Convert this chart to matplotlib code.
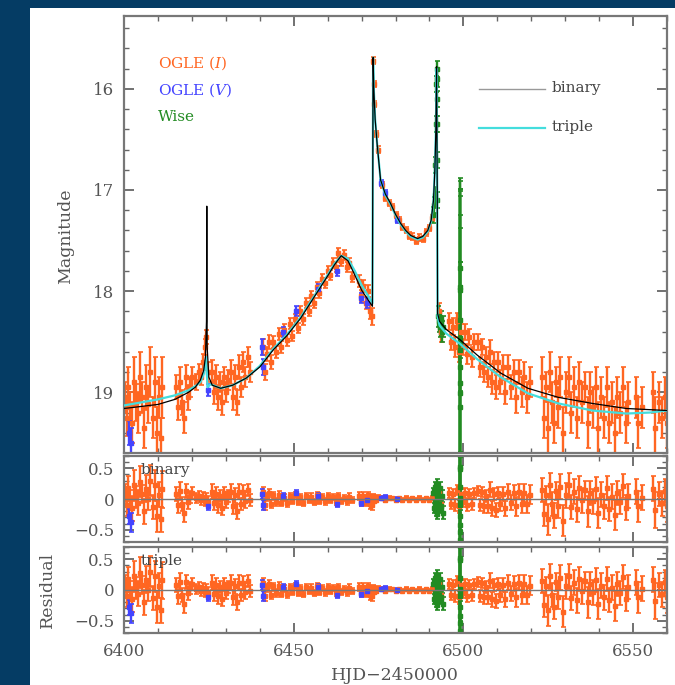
import numpy as np
import matplotlib.pyplot as plt
from matplotlib.ticker import MultipleLocator

plt.rcParams['font.family'] = ['DejaVu Serif']
plt.rcParams['mathtext.fontset'] = 'dejavuserif'

# MODEL CURVES
t_bin = [6400, 6405, 6410, 6415, 6419, 6421, 6422.5, 6423.5, 6424.0, 6424.3, 6424.4, 6424.5,
         6425, 6426, 6428.5, 6432, 6436, 6440, 6444, 6448, 6452, 6456, 6460, 6462, 6464,
         6466, 6468, 6470, 6472, 6473.2, 6473.4, 6473.6, 6474, 6474.6, 6475.6, 6477, 6478.5,
         6480, 6481.5, 6483, 6484.5, 6486.5, 6488, 6489.5, 6490.5, 6491.2, 6491.6, 6491.9,
         6492.1, 6492.3, 6492.4, 6493, 6495, 6499, 6504, 6511, 6519, 6528, 6538, 6548, 6560]
mag_bin = [19.16, 19.14, 19.12, 19.07, 19.00, 18.95, 18.88, 18.78, 18.65, 18.30, 17.16, 18.55,
           18.85, 18.93, 18.96, 18.93, 18.86, 18.75, 18.58, 18.44, 18.27, 18.06, 17.85, 17.74, 17.65,
           17.70, 17.84, 17.99, 18.09, 18.15, 15.69, 16.00, 16.30, 16.55, 16.90, 17.04, 17.13,
           17.24, 17.33, 17.40, 17.45, 17.48, 17.46, 17.40, 17.30, 17.10, 16.80, 16.40,
           15.78, 17.00, 18.22, 18.30, 18.38, 18.48, 18.63, 18.81, 18.96, 19.05, 19.11, 19.16, 19.18]

t_tri = [6400, 6405, 6410, 6415, 6419, 6421, 6422.5, 6423.5, 6424.2, 6424.6, 6425.5,
         6428.5, 6432, 6436, 6440, 6444, 6448, 6452, 6456, 6460, 6462, 6464, 6466, 6468,
         6470, 6472, 6473.2, 6473.4, 6473.6, 6474, 6474.6, 6475.6, 6477, 6478.5, 6480,
         6481.5, 6483, 6484.5, 6486.5, 6488, 6489.5, 6490.5, 6491.2, 6491.6, 6491.9, 6492.1,
         6492.3, 6492.4, 6493, 6495, 6499, 6504, 6511, 6519, 6528, 6538, 6548, 6555, 6560]
mag_tri = [19.13, 19.10, 19.07, 19.03, 18.98, 18.94, 18.90, 18.82, 18.65, 18.95, 18.92,
           18.96, 18.93, 18.86, 18.74, 18.57, 18.43, 18.26, 18.05, 17.84, 17.73, 17.65, 17.68, 17.80,
           17.94, 18.05, 18.12, 15.69, 16.00, 16.30, 16.55, 16.90, 17.05, 17.14, 17.25,
           17.34, 17.41, 17.46, 17.49, 17.47, 17.41, 17.31, 17.10, 16.80, 16.40, 15.80,
           17.00, 18.25, 18.34, 18.42, 18.52, 18.67, 18.85, 19.01, 19.11, 19.18, 19.21, 19.20, 19.18]

# OGLE I DATA
ogle_i_t = [6400.3, 6400.8, 6401.3, 6401.8, 6402.4, 6403.0, 6403.6, 6404.2, 6404.8, 6405.4,
            6406.0, 6406.6, 6407.2, 6407.8, 6408.4, 6409.0, 6409.6, 6410.2, 6410.8, 6411.3,
            6415.2, 6415.8, 6416.4, 6417.0, 6417.6, 6418.2, 6418.8, 6419.4, 6420.0, 6421.2,
            6422.0, 6422.8, 6423.4, 6423.8, 6424.1, 6424.7,
            6425.8, 6426.4, 6427.0, 6427.6, 6428.2, 6428.8, 6429.4, 6430.0, 6430.5,
            6431.6, 6432.2, 6432.8, 6433.4, 6434.0, 6434.6, 6435.2, 6435.8, 6436.4, 6437.0,
            6441.0, 6441.5, 6442.0, 6442.6, 6443.2, 6444.0, 6444.8, 6445.6, 6446.4, 6447.2,
            6448.0, 6448.8, 6449.6, 6450.4, 6451.2, 6452.0, 6452.8, 6453.6, 6454.4, 6455.2,
            6456.0, 6456.8, 6457.6, 6458.4, 6459.2, 6460.0, 6460.8, 6461.6, 6462.4, 6463.2,
            6464.0, 6464.8, 6465.6, 6466.4, 6467.2,
            6469.2, 6469.8, 6470.5, 6471.2, 6471.8, 6472.4, 6473.0, 6473.45, 6473.55, 6473.7,
            6474.3, 6474.7,
            6476.0, 6477.0, 6478.0, 6479.0, 6480.0, 6481.0, 6482.0, 6483.0, 6484.0, 6485.0,
            6486.0, 6487.0, 6488.0, 6489.0, 6490.0, 6490.8,
            6492.8, 6493.3, 6495.8, 6496.4, 6497.0, 6497.6, 6498.2, 6498.8, 6499.4, 6500.0,
            6500.6, 6501.2, 6501.8, 6502.4, 6503.0,
            6504.2, 6504.8, 6505.4, 6506.0, 6506.6, 6507.2, 6507.8, 6508.4, 6509.0, 6509.6,
            6510.2, 6510.8, 6511.6, 6512.4, 6513.2, 6514.0, 6514.8, 6515.6, 6516.4, 6517.2,
            6518.0, 6518.8, 6519.6,
            6523.2, 6523.8, 6524.4, 6525.0, 6525.6, 6526.2, 6526.8, 6527.4, 6528.0, 6528.6,
            6529.4, 6530.2, 6531.0, 6531.8, 6532.6, 6533.4, 6534.2, 6535.0, 6535.8, 6536.6,
            6537.4, 6538.2, 6539.0, 6539.8, 6540.6, 6541.4, 6542.2, 6543.0, 6543.8, 6544.6,
            6545.4, 6546.2, 6547.0, 6547.8, 6548.6,
            6550.8, 6551.6, 6552.6, 6555.8, 6556.6, 6557.6, 6558.6, 6559.4, 6559.9]
ogle_i_mag = [19.05, 19.25, 18.95, 19.15, 19.30, 18.90, 19.10, 19.20, 18.85, 19.05,
              19.35, 18.95, 19.12, 18.80, 19.25, 18.90, 19.40, 19.05, 19.45, 18.95,
              18.95, 19.15, 18.90, 19.10, 19.25, 18.85, 19.05, 18.95, 18.85, 18.90,
              18.80, 18.85, 18.70, 18.55, 18.45, 18.80,
              18.80, 19.00, 18.85, 19.05, 18.90, 19.10, 18.85, 19.00, 18.88,
              18.80, 19.05, 18.85, 19.10, 18.75, 18.95, 18.70, 18.85, 18.65, 18.80,
              18.55, 18.80, 18.62, 18.50, 18.70, 18.50, 18.60, 18.42, 18.55, 18.38,
              18.48, 18.32, 18.44, 18.28, 18.36, 18.20, 18.28, 18.12, 18.20, 18.05,
              18.12, 17.96, 18.02, 17.88, 17.92, 17.80, 17.84, 17.72, 17.76, 17.62,
              17.70, 17.64, 17.76, 17.72, 17.86,
              17.90, 18.05, 17.95, 18.12, 18.00, 18.20, 18.25, 15.72, 15.95, 16.15,
              16.45, 16.60,
              16.95, 17.08, 17.13, 17.17, 17.25, 17.30, 17.37, 17.40, 17.45, 17.46,
              17.50, 17.47, 17.48, 17.42, 17.38, 17.28,
              18.20, 18.40, 18.30, 18.50, 18.35, 18.55, 18.30, 18.60, 18.40, 18.55,
              18.40, 18.62, 18.45, 18.65, 18.50,
              18.50, 18.75, 18.55, 18.80, 18.65, 18.85, 18.60, 18.90, 18.70, 18.95,
              18.70, 18.90, 18.75, 19.00, 18.75, 18.95, 18.80, 19.05, 18.80, 19.00,
              18.85, 19.05, 18.90,
              18.85, 19.25, 18.95, 19.35, 18.80, 19.10, 19.30, 18.90, 19.15, 18.85,
              19.40, 19.00, 18.85, 19.20, 18.95, 19.25, 18.90, 19.10, 18.95, 19.30,
              19.00, 19.15, 18.95, 19.35, 19.05, 19.25, 18.95, 19.30, 19.10, 19.40,
              19.05, 19.20, 18.95, 19.30, 19.10,
              19.05, 19.30, 19.15, 19.00, 19.35, 19.10, 19.25, 19.05, 19.30]
ogle_i_err = [0.15, 0.18, 0.20, 0.15, 0.20, 0.25, 0.18, 0.20, 0.25, 0.15,
              0.20, 0.22, 0.18, 0.25, 0.20, 0.25, 0.25, 0.20, 0.20, 0.30,
              0.12, 0.12, 0.15, 0.12, 0.15, 0.12, 0.12, 0.10, 0.10, 0.08,
              0.08, 0.08, 0.08, 0.08, 0.07, 0.10,
              0.12, 0.12, 0.12, 0.12, 0.10, 0.12, 0.10, 0.10, 0.10,
              0.12, 0.12, 0.12, 0.12, 0.12, 0.10, 0.10, 0.10, 0.10, 0.10,
              0.08, 0.08, 0.07, 0.07, 0.07, 0.06, 0.06, 0.06, 0.06, 0.06,
              0.06, 0.05, 0.05, 0.05, 0.05, 0.05, 0.05, 0.05, 0.05, 0.05,
              0.05, 0.05, 0.05, 0.05, 0.05, 0.05, 0.05, 0.05, 0.05, 0.05,
              0.05, 0.05, 0.05, 0.05, 0.05,
              0.06, 0.06, 0.06, 0.06, 0.06, 0.08, 0.08, 0.03, 0.03, 0.03,
              0.03, 0.03,
              0.03, 0.03, 0.03, 0.03, 0.03, 0.03, 0.03, 0.03, 0.03, 0.03,
              0.03, 0.03, 0.03, 0.03, 0.03, 0.03,
              0.08, 0.10, 0.08, 0.08, 0.08, 0.10, 0.08, 0.10, 0.08, 0.08,
              0.08, 0.10, 0.08, 0.10, 0.08,
              0.08, 0.10, 0.08, 0.10, 0.10, 0.10, 0.12, 0.12, 0.10, 0.12,
              0.10, 0.12, 0.12, 0.12, 0.12, 0.12, 0.12, 0.15, 0.12, 0.15,
              0.15, 0.15, 0.15,
              0.20, 0.20, 0.15, 0.25, 0.20, 0.20, 0.20, 0.15, 0.20, 0.20,
              0.25, 0.20, 0.20, 0.20, 0.20, 0.20, 0.20, 0.20, 0.15, 0.25,
              0.20, 0.20, 0.20, 0.25, 0.20, 0.20, 0.20, 0.20, 0.20, 0.25,
              0.20, 0.20, 0.20, 0.20, 0.20,
              0.20, 0.25, 0.20, 0.20, 0.30, 0.20, 0.20, 0.20, 0.25]
ogle_i_res = [0.10, -0.10, 0.18, 0.00, -0.15, 0.22, 0.03, -0.06, 0.28, 0.08,
              -0.20, 0.17, 0.00, 0.30, -0.13, 0.22, -0.28, 0.07, -0.33, 0.16,
              0.08, -0.10, 0.13, -0.08, -0.22, 0.13, -0.05, 0.03, 0.10, 0.02,
              0.05, -0.02, 0.03, -0.04, 0.02, -0.05,
              0.12, -0.06, 0.08, -0.10, 0.05, -0.14, 0.10, -0.05, 0.05,
              0.12, -0.12, 0.06, -0.20, 0.12, -0.08, 0.12, -0.04, 0.15, -0.02,
              0.12, -0.10, 0.03, 0.10, -0.08, 0.06, -0.05, 0.07, -0.06, 0.02,
              -0.07, 0.05, -0.03, 0.06, -0.05, 0.03, -0.06, 0.05, -0.02, 0.04,
              -0.05, 0.06, -0.03, 0.03, -0.04, 0.05, -0.02, 0.03, -0.04, 0.05,
              -0.03, 0.02, -0.04, 0.04, -0.02,
              0.05, -0.05, 0.05, -0.06, 0.06, -0.08, -0.10, 0.05, -0.03, 0.02,
              -0.02, 0.03,
              0.02, -0.02, 0.02, 0.01, -0.02, 0.01, -0.01, 0.02, -0.01, 0.01,
              -0.02, 0.02, -0.02, 0.01, -0.01, 0.02,
              0.10, -0.08, 0.10, -0.08, 0.08, -0.10, 0.15, -0.12, 0.08, -0.05,
              0.10, -0.10, 0.08, -0.08, 0.10,
              0.13, -0.10, 0.12, -0.12, 0.05, -0.12, 0.15, -0.15, 0.08, -0.18,
              0.10, -0.08, 0.08, -0.15, 0.12, -0.06, 0.10, -0.12, 0.12, -0.08,
              0.10, -0.08, 0.07,
              0.15, -0.24, 0.06, -0.33, 0.22, -0.08, -0.27, 0.13, -0.11, 0.20,
              -0.35, 0.06, 0.22, -0.13, 0.12, -0.17, 0.18, -0.02, 0.14, -0.20,
              0.10, -0.04, 0.16, -0.23, 0.07, -0.12, 0.18, -0.16, 0.04, -0.26,
              0.10, -0.05, 0.21, -0.14, 0.05,
              0.12, -0.12, 0.02, 0.17, -0.18, 0.08, -0.07, 0.13, -0.12]

# OGLE V DATA
ogle_v_t = [6401.5, 6402.0, 6424.8, 6440.8, 6441.0, 6446.8, 6450.6, 6457.3, 6462.9, 6469.8,
            6471.5, 6475.8, 6477.0, 6480.5]
ogle_v_mag = [19.40, 19.50, 18.98, 18.55, 18.75, 18.40, 18.20, 17.98, 17.80, 18.07,
              18.12, 16.93, 17.03, 17.30]
ogle_v_err = [0.12, 0.15, 0.06, 0.08, 0.08, 0.05, 0.05, 0.05, 0.05, 0.05,
              0.05, 0.03, 0.03, 0.03]
ogle_v_res = [-0.28, -0.38, -0.12, 0.08, -0.10, 0.05, 0.10, 0.05, -0.08, -0.06,
              -0.02, 0.02, 0.03, 0.00]

# WISE DATA
wise_t = [6491.1, 6491.3, 6491.5, 6491.7, 6491.9, 6492.0, 6492.1, 6492.15, 6492.2, 6492.25,
          6492.3, 6492.35, 6492.6, 6492.9, 6493.2, 6493.5, 6493.8, 6494.0,
          6498.95, 6498.97, 6498.99, 6499.0, 6499.0, 6499.01, 6499.02, 6499.03, 6499.04, 6499.05, 6499.06]
wise_mag = [17.25, 17.15, 17.05, 16.75, 16.35, 15.95, 15.80, 15.90, 16.10, 16.35,
            16.70, 17.10, 18.25, 18.30, 18.35, 18.30, 18.40, 18.35,
            17.77, 17.96, 17.99, 18.29, 18.46, 18.51, 18.58, 18.75, 18.91, 19.01, 19.15]
wise_err = [0.08, 0.08, 0.08, 0.08, 0.08, 0.08, 0.08, 0.08, 0.08, 0.08,
            0.08, 0.08, 0.10, 0.10, 0.10, 0.10, 0.10, 0.10,
            0.89, 1.05, 1.00, 1.30, 1.40, 1.50, 1.20, 1.50, 1.20, 1.30, 1.20]
wise_res = [0.10, -0.15, 0.20, -0.05, 0.15, -0.20, 0.05, -0.10, 0.25, -0.25,
            0.08, -0.18, 0.12, -0.08, 0.18, -0.12, 0.05, -0.22,
            0.71, 0.52, 0.49, 0.19, 0.02, -0.03, -0.10, -0.27, -0.43, -0.53, -0.67]

c_i = '#ff6622'
c_v = '#4444ff'
c_w = '#228b22'
c_tri = '#44dddd'
txt = '#555555'

W, H = 675, 685
fig = plt.figure(figsize=(W / 100, H / 100), dpi=100)
fig.patch.set_facecolor('#053c64')
fig.add_artist(plt.Rectangle((30 / W, 0), 1 - 30 / W, 1 - 8 / H, transform=fig.transFigure,
                             facecolor='white', edgecolor='none', zorder=0))

left, width = 124 / W, 543 / W
ax = fig.add_axes([left, 1 - 453 / H, width, 437 / H])
r1 = fig.add_axes([left, 1 - 542 / H, width, 86 / H])
r2 = fig.add_axes([left, 1 - 633 / H, width, 86 / H])


def style(a):
    a.set_xlim(6400, 6560)
    a.xaxis.set_major_locator(MultipleLocator(50))
    a.xaxis.set_minor_locator(MultipleLocator(10))
    a.tick_params(which='both', direction='in', top=True, right=True, color='#666666',
                  labelcolor=txt, labelsize=12)
    a.tick_params(which='major', length=7, width=1.3, pad=7)
    a.tick_params(which='minor', length=3.5, width=1.0)
    for s in a.spines.values():
        s.set_color('#777777')
        s.set_linewidth(1.6)


def data(a, t, y, e, c):
    a.errorbar(t, y, yerr=e, fmt='s', ms=3.2, color=c, elinewidth=1.7,
               capsize=1.8, capthick=1.2, zorder=2)


# MAIN PANEL
style(ax)
data(ax, ogle_i_t, ogle_i_mag, ogle_i_err, c_i)
data(ax, ogle_v_t, ogle_v_mag, ogle_v_err, c_v)
data(ax, wise_t, wise_mag, wise_err, c_w)
ax.plot(t_tri, mag_tri, color=c_tri, lw=1.6, zorder=3)
ax.plot(t_bin, mag_bin, color='black', lw=0.9, zorder=4)
ax.set_ylim(19.6, 15.28)
ax.set_yticks([16, 17, 18, 19])
ax.yaxis.set_minor_locator(MultipleLocator(0.2))
ax.set_xticklabels([])

ax.text(0.063, 0.892, 'OGLE ($I$)', color=c_i, fontsize=11, transform=ax.transAxes, va='center')
ax.text(0.063, 0.831, 'OGLE ($V$)', color=c_v, fontsize=11, transform=ax.transAxes, va='center')
ax.text(0.063, 0.769, 'Wise', color=c_w, fontsize=11, transform=ax.transAxes, va='center')
ax.plot([0.654, 0.775], [0.833, 0.833], color='#999999', lw=1.0, transform=ax.transAxes)
ax.plot([0.654, 0.775], [0.744, 0.744], color=c_tri, lw=1.6, transform=ax.transAxes)
ax.text(0.788, 0.836, 'binary', color='#444444', fontsize=11, transform=ax.transAxes, va='center')
ax.text(0.788, 0.747, 'triple', color='#444444', fontsize=11, transform=ax.transAxes, va='center')

# RESIDUAL PANELS
for a, name in [(r1, 'binary'), (r2, 'triple')]:
    style(a)
    data(a, ogle_i_t, ogle_i_res, ogle_i_err, c_i)
    data(a, ogle_v_t, ogle_v_res, ogle_v_err, c_v)
    data(a, wise_t, wise_res, wise_err, c_w)
    a.axhline(0, color='#777777', lw=1.0, zorder=5)
    a.set_ylim(-0.7, 0.7)
    a.set_yticks([-0.5, 0, 0.5], ['\u22120.5', '0', '0.5'])
    a.yaxis.set_minor_locator(MultipleLocator(0.1))
    a.text(0.03, 0.84, name, color='#444444', fontsize=11, transform=a.transAxes, va='center')
r1.set_xticklabels([])

fig.text(66 / W, 1 - 236 / H, 'Magnitude', rotation=90, ha='center', va='center',
         color=txt, fontsize=12.5)
fig.text(47 / W, 1 - 590 / H, 'Residual', rotation=90, ha='center', va='center',
         color=txt, fontsize=12.5)
fig.text(395 / W, 1 - 676 / H, 'HJD\u22122450000', ha='center', va='center',
         color=txt, fontsize=12.5)

fig.savefig('out.png', dpi=100, facecolor=fig.get_facecolor())
